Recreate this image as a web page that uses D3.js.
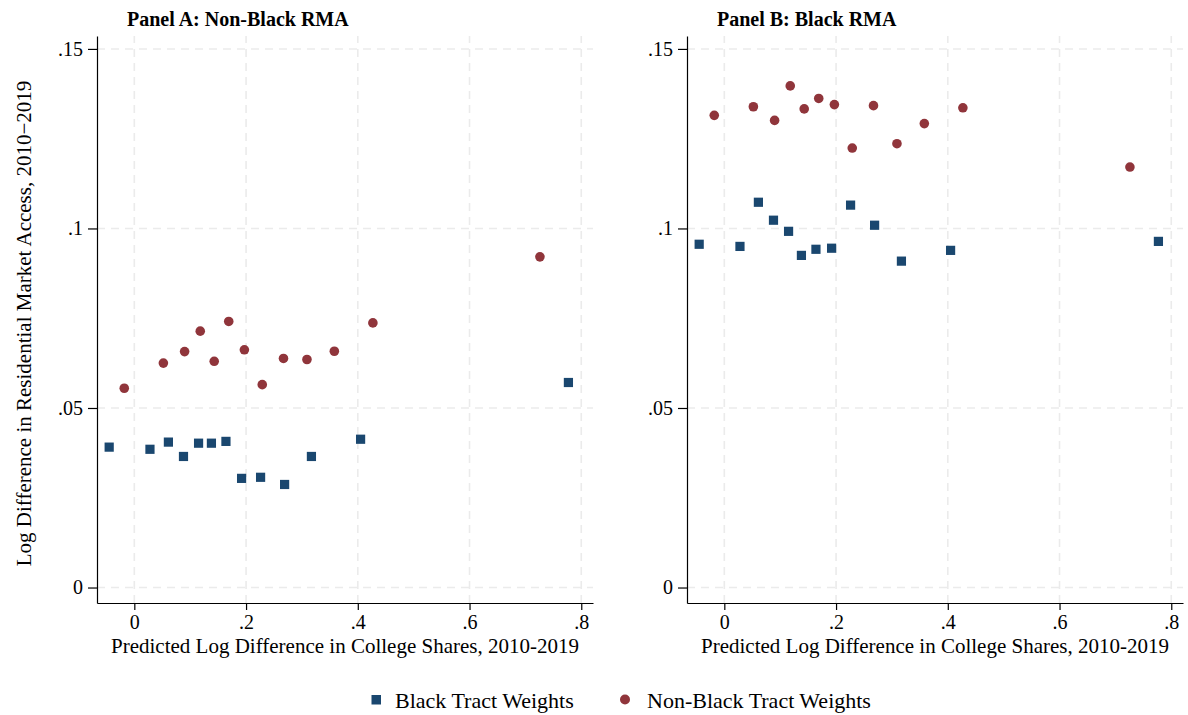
<!DOCTYPE html>
<html><head><meta charset="utf-8">
<script src="https://cdn.jsdelivr.net/npm/d3@7"></script>
<style>body{margin:0;background:#fff;} svg{display:block;font-family:"Liberation Serif","Times New Roman",serif;}</style>
</head><body><svg id="c" width="1188" height="715"></svg>
<script>
// ---- data ----
const panelTitles = ["Panel A: Non-Black RMA", "Panel B: Black RMA"];
const seriesNames = ["Black Tract Weights", "Non-Black Tract Weights"];
const xTicks = [0, 0.2, 0.4, 0.6, 0.8];
const xTickLabels = ["0", ".2", ".4", ".6", ".8"];
const yTicks = [0, 0.05, 0.1, 0.15];
const yTickLabels = ["0", ".05", ".1", ".15"];
const xTitle = "Predicted Log Difference in College Shares, 2010-2019";
const yTitle = "Log Difference in Residential Market Access, 2010\u22122019";

const blackX = [-0.045, 0.028, 0.061, 0.088, 0.115, 0.138, 0.164, 0.192, 0.226, 0.269, 0.317, 0.405, 0.777];
const nonBlackX = [-0.018, 0.052, 0.090, 0.118, 0.143, 0.169, 0.197, 0.229, 0.267, 0.309, 0.358, 0.427, 0.726];

const panelA_black = [0.0391, 0.0385, 0.0405, 0.0365, 0.0402, 0.0402, 0.0407, 0.0304, 0.0307, 0.0287, 0.0365, 0.0413, 0.0571];
const panelA_nonBlack = [0.0555, 0.0625, 0.0657, 0.0714, 0.0630, 0.0741, 0.0662, 0.0565, 0.0638, 0.0635, 0.0658, 0.0737, 0.0921];
const panelB_black = [0.0956, 0.0950, 0.1073, 0.1023, 0.0992, 0.0925, 0.0942, 0.0945, 0.1065, 0.1009, 0.0909, 0.0939, 0.0964];
const panelB_nonBlack = [0.1315, 0.1339, 0.1301, 0.1397, 0.1333, 0.1362, 0.1345, 0.1224, 0.1342, 0.1236, 0.1292, 0.1336, 0.1171];

const colors = {black: "#1A476F", nonBlack: "#90353B"};

// ---- drawing ----
const svg = d3.select("#c");
const panels = [
  {title: panelTitles[0], black: panelA_black, nonBlack: panelA_nonBlack, left: 97, showY: true},
  {title: panelTitles[1], black: panelB_black, nonBlack: panelB_nonBlack, left: 687, showY: false}
];
const plotW = 496, plotTop = 36, plotBottom = 603;

panels.forEach(p => {
  const x = d3.scaleLinear().domain([-0.0668, 0.821]).range([p.left, p.left + plotW]);
  const y = d3.scaleLinear().domain([-0.00431, 0.1536]).range([plotBottom, plotTop]);
  const g = svg.append("g");

  // grid
  g.selectAll(".vg").data(xTicks).join("line")
    .attr("x1", d => x(d)).attr("x2", d => x(d)).attr("y1", plotBottom).attr("y2", plotTop)
    .attr("stroke", "#ebebeb").attr("stroke-width", 1.6).attr("stroke-dasharray", "8,6");
  g.selectAll(".hg").data(yTicks).join("line")
    .attr("x1", p.left).attr("x2", p.left + plotW).attr("y1", d => y(d)).attr("y2", d => y(d))
    .attr("stroke", "#ebebeb").attr("stroke-width", 1.6).attr("stroke-dasharray", "8,6");

  // axes
  const xAxis = d3.axisBottom(x).tickValues(xTicks).tickFormat((d, i) => xTickLabels[i]).tickSize(7).tickSizeOuter(0);
  const gx = g.append("g").attr("transform", `translate(0,${plotBottom})`).call(xAxis);
  const yAxis = d3.axisLeft(y).tickValues(yTicks).tickFormat((d, i) => yTickLabels[i]).tickSize(9).tickSizeOuter(0).tickPadding(5);
  const gy = g.append("g").attr("transform", `translate(${p.left},0)`).call(yAxis);
  [gx, gy].forEach(a => {
    a.select(".domain").attr("stroke", "#000").attr("stroke-width", 1.2);
    a.selectAll(".tick line").attr("stroke", "#000").attr("stroke-width", 1.2);
    a.selectAll(".tick text").attr("font-family", "Liberation Serif").attr("font-size", 20).attr("fill", "#000");
  });
  gx.selectAll(".tick text").attr("y", 26).attr("dy", 0);

  // points
  g.selectAll(".sq").data(blackX.map((d, i) => [d, p.black[i]])).join("rect")
    .attr("x", d => x(d[0]) - 4.6).attr("y", d => y(d[1]) - 4.6)
    .attr("width", 9.2).attr("height", 9.2).attr("fill", colors.black);
  g.selectAll(".ci").data(nonBlackX.map((d, i) => [d, p.nonBlack[i]])).join("circle")
    .attr("cx", d => x(d[0])).attr("cy", d => y(d[1])).attr("r", 4.8).attr("fill", colors.nonBlack);

  // titles
  g.append("text").attr("x", p.left + 30).attr("y", 26).attr("font-weight", "bold").attr("font-size", 20)
    .text(p.title);
  g.append("text").attr("x", p.left + plotW / 2).attr("y", 653).attr("text-anchor", "middle").attr("font-size", 21)
    .text(xTitle);
  if (p.showY) {
    g.append("text").attr("transform", `translate(31,323.5) rotate(-90)`).attr("text-anchor", "middle")
      .attr("font-size", 21).text(yTitle);
  }
});

// legend
const lg = svg.append("g").attr("font-size", 22);
lg.append("rect").attr("x", 371.5).attr("y", 695).attr("width", 9.5).attr("height", 9.5).attr("fill", colors.black);
lg.append("text").attr("x", 395).attr("y", 708).text(seriesNames[0]);
lg.append("circle").attr("cx", 625).attr("cy", 699.5).attr("r", 5).attr("fill", colors.nonBlack);
lg.append("text").attr("x", 647).attr("y", 708).text(seriesNames[1]);
</script></body></html>
